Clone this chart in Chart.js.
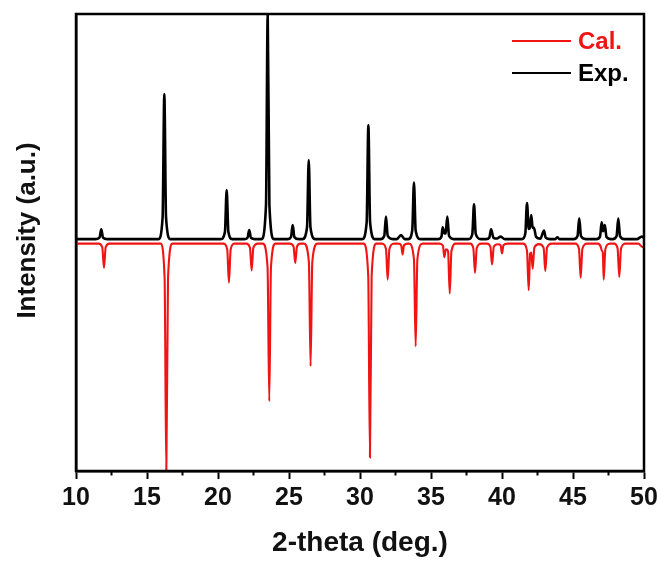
<!DOCTYPE html>
<html>
<head>
<meta charset="utf-8">
<title>XRD pattern</title>
<script src="https://cdn.jsdelivr.net/npm/chart.js@4.4.1/dist/chart.umd.min.js"></script>
<style>
  html, body { margin: 0; padding: 0; background: #fff; }
  canvas { display: block; }
</style>
</head>
<body>
<canvas id="xrdChart" width="662" height="563"></canvas>
<script>
// measured pattern (top trace), one peak per line
const expAngle = [
  10.00,
  11.40, 11.66, 11.78, 11.90, 12.20,
  15.80, 16.10, 16.22, 16.34, 16.65,
  20.20, 20.49, 20.61, 20.73, 21.00,
  21.85, 22.08, 22.20, 22.32, 22.60,
  23.05, 23.38, 23.50, 23.62, 23.95,
  24.90, 25.14, 25.26, 25.38, 25.70,
  25.95, 26.27, 26.39, 26.51, 26.85,
  30.15, 30.47, 30.59, 30.71, 31.05,
  31.45, 31.71, 31.83, 31.95, 32.30,
  32.60, 32.89, 33.15,
  33.40, 33.68, 33.80, 33.92, 34.25,
  35.50, 35.74, 35.82, 35.95, 36.03, 36.15, 36.27, 36.60,
  37.65, 37.91, 38.03, 38.15, 38.50,
  38.90, 39.11, 39.23, 39.40, 39.65, 39.90, 40.20,
  41.40, 41.64, 41.76, 41.88, 41.96, 42.06, 42.16, 42.25, 42.40, 42.70, 42.96, 43.08, 43.40,
  43.75, 43.90, 44.05,
  45.05, 45.32, 45.44, 45.56, 45.90,
  46.65, 46.90, 47.02, 47.12, 47.24, 47.36, 47.65,
  47.80, 48.07, 48.19, 48.31, 48.60,
  49.50, 49.84, 50.00
];
const expIntensity = [
  0,
  0, 0.7, 4.4, 0.7, 0,
  0, 9.7, 64.4, 9.7, 0,
  0, 3.3, 21.8, 3.3, 0,
  0, 0.6, 4.0, 0.6, 0,
  0, 15, 100, 15, 0,
  0, 0.9, 6.2, 0.9, 0,
  0, 5.3, 35.1, 5.3, 0,
  0, 7.6, 50.6, 7.6, 0,
  0, 1.5, 10, 1.5, 0,
  0, 1.8, 0,
  0, 3.8, 25.1, 3.8, 0,
  0, 1.2, 5.3, 2.5, 2.6, 10, 1.5, 0,
  0, 2.3, 15.5, 2.3, 0,
  0, 0.7, 4.4, 0.6, 0.3, 1.1, 0,
  0, 2.4, 16, 4.5, 5, 10.7, 5, 5, 1, 0.2, 3.8, 0.6, 0,
  0, 0.8, 0,
  0, 1.4, 9.3, 1.4, 0,
  0, 1.1, 7.5, 3.5, 6.2, 0.9, 0,
  0, 1.4, 9.1, 1.4, 0,
  0, 1.1, 0.6
];

// calculated pattern, drawn downward below the measured one
const calAngle = [
  10.00,
  11.60, 11.85, 11.97, 12.09, 12.35,
  15.95, 16.24, 16.36, 16.48, 16.80,
  20.40, 20.65, 20.77, 20.89, 21.15,
  22.00, 22.25, 22.37, 22.49, 22.80,
  23.15, 23.49, 23.61, 23.73, 24.05,
  25.05, 25.32, 25.44, 25.56, 25.80,
  26.05, 26.40, 26.52, 26.64, 27.00,
  30.25, 30.58, 30.70, 30.82, 31.15,
  31.55, 31.83, 31.95, 32.07, 32.40,
  32.70, 32.90, 33.00, 33.10, 33.38,
  33.45, 33.80, 33.92, 34.04, 34.40,
  35.60, 35.84, 35.94, 36.05, 36.20, 36.32, 36.44, 36.75,
  37.75, 37.98, 38.10, 38.22, 38.55,
  38.95, 39.18, 39.30, 39.42, 39.70, 39.90, 40.00, 40.10, 40.40,
  41.50, 41.76, 41.88, 41.98, 42.06, 42.16, 42.28, 42.60, 42.93, 43.05, 43.17, 43.50,
  45.15, 45.42, 45.54, 45.66, 46.00,
  46.75, 46.96, 47.02, 47.10, 47.16, 47.28, 47.60,
  47.90, 48.14, 48.26, 48.38, 48.70,
  49.60, 49.90, 50.00
];
const calIntensity = [
  -2,
  -2, -3.6, -12.8, -3.6, -2,
  -2, -17.3, -104, -17.3, -2,
  -2, -4.6, -19.3, -4.6, -2,
  -2, -3.8, -13.9, -3.8, -2,
  -2, -12.5, -72, -12.5, -2,
  -2, -3.3, -10.6, -3.3, -2,
  -2, -10.2, -56.5, -10.2, -2,
  -2, -16.3, -97, -16.3, -2,
  -2, -4.4, -18, -4.4, -2,
  -2, -2.7, -6.8, -2.7, -2,
  -2, -9, -47.6, -9, -2,
  -2, -2.9, -8, -4.5, -5.3, -24.2, -5.3, -2,
  -2, -4, -15, -4, -2,
  -2, -3.4, -11.3, -3.4, -2.3, -2.7, -6.4, -2.7, -2,
  -2, -5.1, -22.7, -6.5, -6, -13.1, -3.7, -2.2, -3.8, -14.2, -3.8, -2,
  -2, -4.3, -17.1, -4.3, -2,
  -2, -3.5, -5, -6, -18, -4.4, -2,
  -2, -4.2, -16.8, -4.2, -2,
  -2, -3.5, -3.3
];

const xTicks = [10, 15, 20, 25, 30, 35, 40, 45, 50];

const toPoints = (xs, ys) => xs.map((x, i) => ({ x: x, y: ys[i] }));

const fontFamily = '"Liberation Sans", Arial, sans-serif';

// box around the plot, minor x ticks, y title and the inset legend
const framePlugin = {
  id: 'frame',
  afterDraw(chart) {
    const { ctx, chartArea: a, scales } = chart;
    ctx.save();
    ctx.strokeStyle = '#000';
    ctx.lineWidth = 2.5;
    ctx.strokeRect(a.left, a.top, a.right - a.left, a.bottom - a.top);

    // minor ticks halfway between the labelled ones
    const xs = scales.x;
    ctx.lineWidth = 2;
    for (let i = 0; i < xTicks.length - 1; i++) {
      const px = xs.getPixelForValue((xTicks[i] + xTicks[i + 1]) / 2);
      ctx.beginPath();
      ctx.moveTo(px, a.bottom);
      ctx.lineTo(px, a.bottom + 4.5);
      ctx.stroke();
    }

    // y axis title, sits a little above the middle of the axis
    ctx.save();
    ctx.translate(28, (a.top + a.bottom) / 2 - 12);
    ctx.rotate(-Math.PI / 2);
    ctx.font = 'bold 26px ' + fontFamily;
    ctx.fillStyle = '#111';
    ctx.textAlign = 'center';
    ctx.textBaseline = 'middle';
    ctx.fillText('Intensity (a.u.)', 0, 0);
    ctx.restore();

    // legend
    ctx.font = 'bold 24px ' + fontFamily;
    ctx.textBaseline = 'middle';
    ctx.textAlign = 'left';
    chart.data.datasets.forEach((ds, i) => {
      const y = a.top + 27 + i * 32;
      ctx.strokeStyle = ds.borderColor;
      ctx.lineWidth = 2;
      ctx.beginPath();
      ctx.moveTo(a.right - 132, y);
      ctx.lineTo(a.right - 73, y);
      ctx.stroke();
      ctx.fillStyle = ds.borderColor;
      ctx.fillText(ds.label, a.right - 66, y + 1);
    });
    ctx.restore();
  }
};

new Chart(document.getElementById('xrdChart'), {
  type: 'line',
  data: {
    datasets: [
      {
        label: 'Cal.',
        data: toPoints(calAngle, calIntensity),
        borderColor: '#f01414',
        borderWidth: 2.1,
        pointRadius: 0,
        cubicInterpolationMode: 'monotone',
        clip: 0
      },
      {
        label: 'Exp.',
        data: toPoints(expAngle, expIntensity),
        borderColor: '#000000',
        borderWidth: 2.6,
        pointRadius: 0,
        cubicInterpolationMode: 'monotone',
        clip: 0
      }
    ]
  },
  options: {
    responsive: false,
    animation: false,
    layout: { padding: { left: 0, right: 18, top: 14, bottom: 0 } },
    plugins: {
      legend: { display: false },
      tooltip: { enabled: false }
    },
    scales: {
      x: {
        type: 'linear',
        min: 10,
        max: 50,
        afterBuildTicks: (s) => { s.ticks = xTicks.map(v => ({ value: v })); },
        afterFit: (s) => { s.height = 92; },
        border: { color: '#000', width: 2.5 },
        grid: { drawOnChartArea: false, drawTicks: true, tickLength: 8, tickWidth: 2, tickColor: '#000' },
        ticks: {
          padding: 4,
          color: '#111',
          font: { family: fontFamily, size: 25, weight: 'bold' }
        },
        title: {
          display: true,
          text: '2-theta (deg.)',
          color: '#111',
          padding: { top: 0, bottom: 3 },
          font: { family: fontFamily, size: 28, weight: 'bold' }
        }
      },
      y: {
        min: -103,
        max: 100,
        afterFit: (s) => { s.width = 76; },
        border: { color: '#000', width: 2.5 },
        grid: { display: false },
        ticks: { display: false }
      }
    }
  },
  plugins: [framePlugin]
});
</script>
</body>
</html>
